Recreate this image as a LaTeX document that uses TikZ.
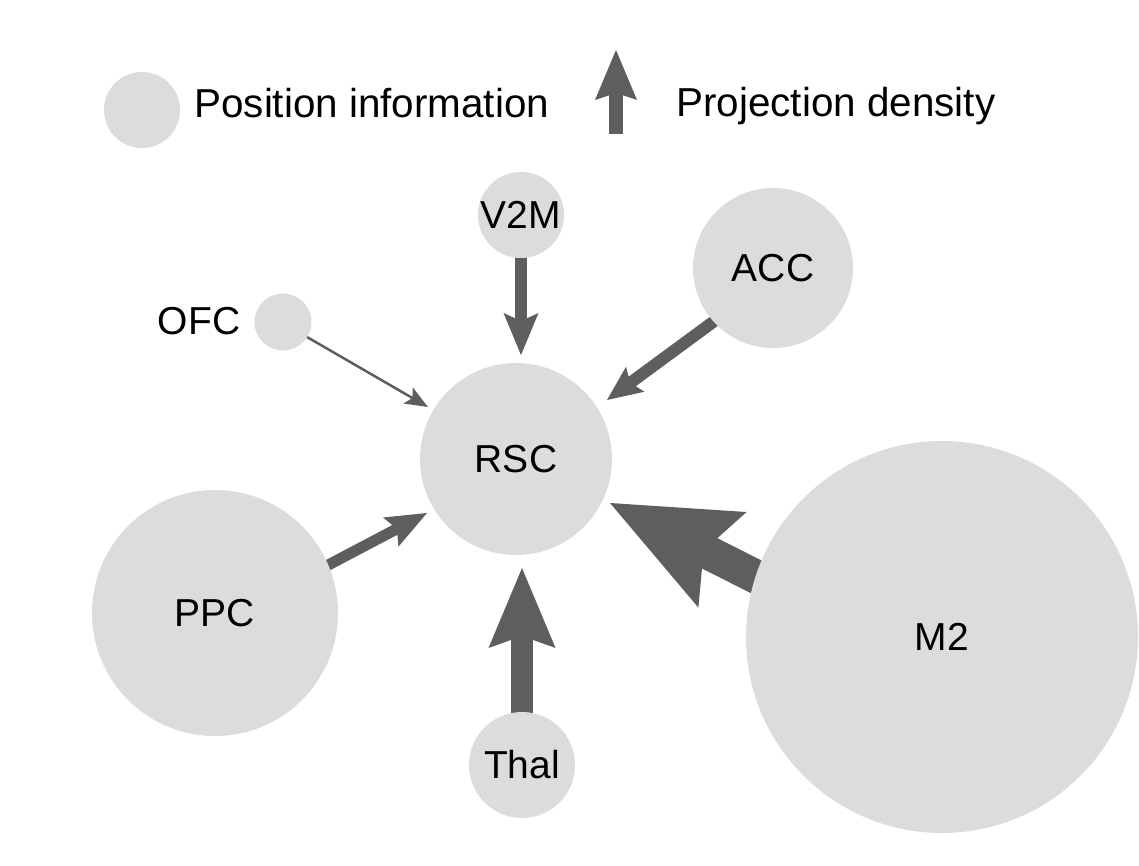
\documentclass[tikz,border=0pt]{standalone}
\usepackage{fontspec}
\setmainfont{Liberation Sans}
\usetikzlibrary{arrows.meta,calc,backgrounds}
\definecolor{circ}{HTML}{DCDCDC}
\definecolor{arr}{HTML}{5E5E5E}
\begin{document}
\begin{tikzpicture}[x=0.5pt,y=-0.5pt,
  region/.style={circle,fill=circ,draw=none,inner sep=0pt,minimum size=#1,font=\fontsize{19.5}{23}\selectfont},
  txt/.style={font=\fontsize{19.5}{23}\selectfont,inner sep=0pt},
  legtxt/.style={font=\fontsize{20.2}{24}\selectfont,inner sep=0pt},
  proj/.style={draw=arr,line cap=butt}]
\useasboundingbox (0,0) rectangle (1139,866);
% regions
\node[region=38pt] (leg) at (142,110) {};
\node[region=43pt] (V2M) at (521,215) {V2M};
\node[region=80pt] (ACC) at (773,268) {ACC};
\node[region=28.5pt] (OFC) at (283,322) {};
\node[txt] (lOFC) at (199,321) {OFC};
\node[region=96pt] (RSC) at (516,459) {RSC};
\node[region=123pt] (PPC) at (215,613) {PPC};
\node[region=53pt] (Thal) at (522,765) {Thal};
\node[region=196pt] (M2) at (942,637) {M2};
% legend
\node[legtxt,anchor=base west] (lpos) at (194,118) {Position information};
\node[legtxt,anchor=base west] (lproj) at (676,117) {Projection density};
\coordinate (la0) at (616,134);
\coordinate (la1) at (616,50);
\draw[proj,line width=7pt,-{Stealth[length=25pt,width=21pt,inset=3.5pt,line width=0pt]}] (la0) -- (la1);
% arrow tips
\coordinate (tV2M) at (521,355);
\coordinate (tACC) at (607,400);
\coordinate (tOFC) at (428,407);
\coordinate (tPPC) at (427,513);
\coordinate (tM2) at (610,503);
\coordinate (tThal) at (522,568);
\begin{scope}[on background layer]
\draw[proj,line width=6pt,-{Stealth[length=21pt,width=17.5pt,inset=4pt,line width=0pt]}] ($(V2M.south)!-4pt!(tV2M)$) -- (tV2M);
\draw[proj,line width=6pt,-{Stealth[length=17.5pt,width=15.5pt,inset=3pt,line width=0pt]}] ($(ACC.222)!-4pt!(tACC)$) -- (tACC);
\draw[proj,line width=1.25pt,-{Stealth[length=11.5pt,width=9.3pt,inset=2.5pt,line width=0pt]}] ($(OFC.328)!-2pt!(tOFC)$) -- (tOFC);
\draw[proj,line width=5.5pt,-{Stealth[length=20.5pt,width=16.5pt,inset=3.5pt,line width=0pt]}] ($(PPC.23)!-4pt!(tPPC)$) -- (tPPC);
\draw[proj,line width=17pt,-{Stealth[length=63pt,width=53.5pt,inset=10.5pt,line width=0pt]}] ($(M2.162)!-8pt!(tM2)$) -- (tM2);
\draw[proj,line width=11pt,-{Stealth[length=40pt,width=33.5pt,inset=6pt,line width=0pt]}] ($(Thal.north)!-5pt!(tThal)$) -- (tThal);
\end{scope}
\end{tikzpicture}
\end{document}
